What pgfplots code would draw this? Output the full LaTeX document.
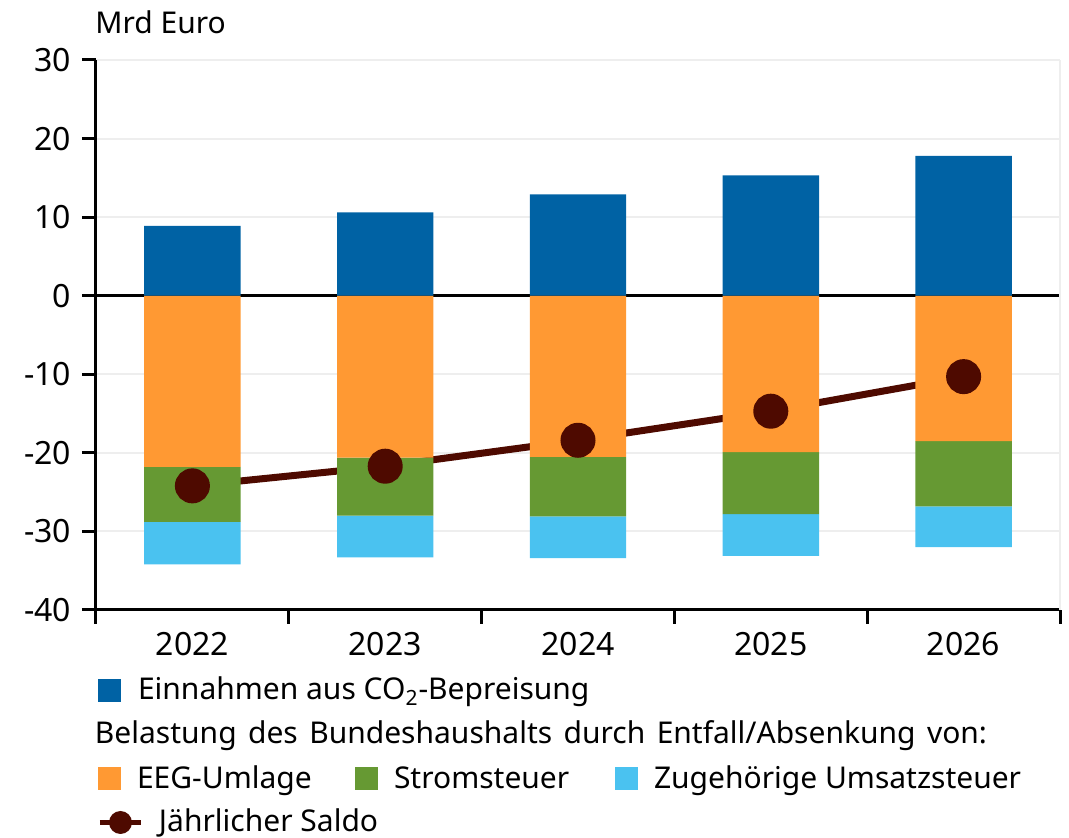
\documentclass[border=0pt]{standalone}
\usepackage{fontspec}
\setmainfont{Noto Sans}
\usepackage{pgfplots}
\usepackage{pgfplotstable}
\pgfplotsset{compat=1.18}
\definecolor{cBlue}{RGB}{0,98,164}
\definecolor{cOrange}{RGB}{255,153,51}
\definecolor{cGreen}{RGB}{102,153,51}
\definecolor{cLight}{RGB}{74,194,240}
\definecolor{cSaldo}{RGB}{78,10,0}
\definecolor{cGrid}{RGB}{238,238,238}
\pgfplotstableread{
x co2 eeg strom ust saldo
0 8.9 -21.8 -7.0 -5.4 -24.2
1 10.6 -20.6 -7.4 -5.3 -21.7
2 12.9 -20.5 -7.6 -5.3 -18.4
3 15.3 -19.9 -7.9 -5.3 -14.7
4 17.8 -18.5 -8.3 -5.2 -10.3
}\data
\pgfplotsset{
  sq/.style={legend image code/.code={\fill[#1, draw=none] (0pt,-5.75pt) rectangle (11.5pt,5.75pt);}},
  saldoleg/.style={legend image code/.code={
    \draw[overlay, draw=cSaldo, fill=none, line width=2.5pt] (1pt,0pt) -- (21.5pt,0pt);
    \fill[overlay, fill=cSaldo, draw=none] (11.25pt,0pt) circle (5.75pt);
    \path[draw=none, fill=none] (0pt,-5.75pt) rectangle (11.5pt,5.75pt);}},
}
\begin{document}
\begin{tikzpicture}
\begin{axis}[
  scale only axis, width=482pt, height=275pt,
  ybar stacked, stack negative=separate, bar width=0.5,
  xmin=-0.5, xmax=4.5, ymin=-40, ymax=30,
  ytick={-40,-30,...,30},
  xtick={0,1,2,3,4}, xticklabels={2022,2023,2024,2025,2026},
  minor xtick={-0.5,0.5,1.5,2.5,3.5,4.5},
  axis x line*=bottom, axis y line*=left,
  axis line style={line width=1.5pt, -},
  tick align=outside, major tick length=7pt, minor tick length=7pt,
  tick style={black, line width=1.5pt},
  major x tick style={draw=none},
  ymajorgrids, grid style={cGrid, line width=1pt},
  clip=false,
  /pgf/number format/assume math mode=true,
  ticklabel style={font=\fontsize{16}{19}\selectfont},
  yticklabel style={xshift=-2pt},
  xticklabel style={yshift=-0.5pt},
  legend columns=3,
  legend cell align=left,
  legend style={at={(0,0)}, anchor=north west, xshift=1pt, yshift=-32.5pt,
    draw=none, fill=none, inner sep=0pt, outer sep=0pt,
    row sep=6.5pt, column sep=8pt, font=\fontsize{15}{18}\selectfont,
    nodes={inner sep=0pt, text height=12.5pt, text depth=3pt},
    /tikz/every even column/.append style={column sep=0pt}},
]
\addplot[fill=cBlue, draw=none, forget plot] table[x=x,y=co2]{\data};
\addplot[fill=cOrange, draw=none, forget plot] table[x=x,y=eeg]{\data};
\addplot[fill=cGreen, draw=none, forget plot] table[x=x,y=strom]{\data};
\addplot[fill=cLight, draw=none, forget plot] table[x=x,y=ust]{\data};
\draw[cGrid, line width=1pt] (rel axis cs:1,0) -- (rel axis cs:1,1);
\draw[black, line width=1.5pt] (axis cs:-0.5,0) -- (axis cs:4.5,0);
\addplot[sharp plot, stack plots=false, draw=cSaldo, line width=3.5pt, mark=*, mark size=7pt,
  mark options={draw=none, fill=cSaldo}, forget plot] table[x=x,y=saldo]{\data};

\addlegendimage{sq=cBlue}\addlegendentry{\makebox[0pt][l]{Einnahmen aus CO\textsubscript{2}-Bepreisung}}
\addlegendimage{empty legend}\addlegendentry{}
\addlegendimage{empty legend}\addlegendentry{}
\addlegendimage{empty legend}\addlegendentry{\makebox[0pt][l]{\hspace*{-21.5pt}\makebox[446pt][s]{Belastung des Bundeshaushalts durch Entfall/Absenkung von:}}}
\addlegendimage{empty legend}\addlegendentry{}
\addlegendimage{empty legend}\addlegendentry{}
\addlegendimage{sq=cOrange}\addlegendentry{\makebox[109pt][l]{EEG-Umlage}}
\addlegendimage{sq=cGreen}\addlegendentry{\makebox[110.5pt][l]{Stromsteuer}}
\addlegendimage{sq=cLight}\addlegendentry{Zugehörige Umsatzsteuer}
\addlegendimage{saldoleg}\addlegendentry{\makebox[0pt][l]{\hspace*{10.5pt}Jährlicher Saldo}}
\end{axis}
\node[anchor=base west, inner sep=0pt, font=\fontsize{15}{18}\selectfont]
  at ([xshift=-0.5pt, yshift=13pt]current axis.north west) {Mrd Euro};
\pgfresetboundingbox
\path ([shift={(-48pt,-114pt)}]current axis.south west) rectangle ([shift={(486.5pt,305pt)}]current axis.south west);
\end{tikzpicture}
\end{document}
